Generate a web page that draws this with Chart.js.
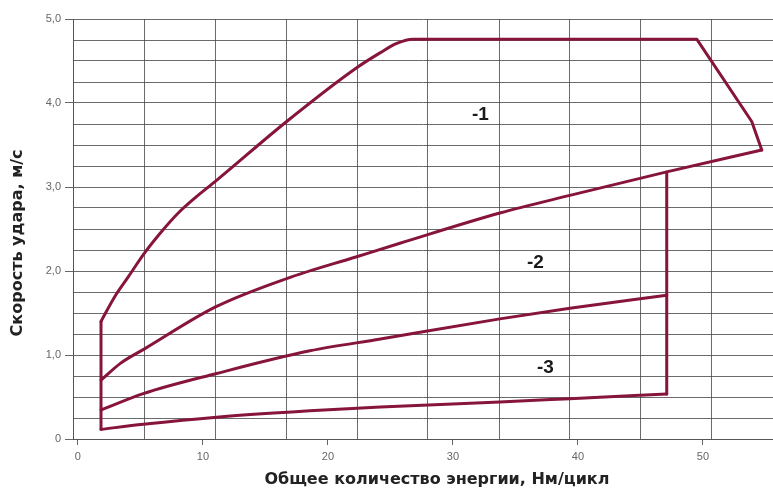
<!DOCTYPE html>
<html>
<head>
<meta charset="utf-8">
<script src="https://cdn.jsdelivr.net/npm/chart.js@4/dist/chart.umd.min.js"></script>
<style>
html,body{margin:0;padding:0;background:#fff;}
#wrap{width:773px;height:490px;position:relative;}
</style>
</head>
<body>
<div id="wrap"><canvas id="c" width="773" height="490"></canvas></div>
<script>
// ---- data (energy, Nm/cycle  vs  impact speed, m/s) ----
const leftEdgeX   = [1.85, 1.85];
const leftEdgeY   = [0.115, 1.40];
const curve1X = [1.85, 2.97, 4.03, 5.31, 6.7, 8.03, 9.37, 11.02, 16.7, 22.3, 24.2, 25.5, 26.8, 27.6];
const curve1Y = [1.40, 1.70, 1.93, 2.21, 2.47, 2.69, 2.87, 3.07, 3.78, 4.42, 4.60, 4.71, 4.76, 4.76];
const topEdgeX = [27.6, 49.5, 53.9, 54.7];
const topEdgeY = [4.76, 4.76, 3.78, 3.44];
const curve2X = [1.85, 3.4, 5.3, 11.05, 16.7, 22.3, 25.76, 33.75, 39.35, 47.1, 54.7];
const curve2Y = [0.70, 0.90, 1.07, 1.575, 1.91, 2.17, 2.33, 2.69, 2.90, 3.18, 3.44];
const curve3X = [1.85, 5.23, 11.1, 18.56, 24.2, 33.75, 39.35, 47.1];
const curve3Y = [0.345, 0.54, 0.78, 1.05, 1.19, 1.43, 1.556, 1.71];
const curve4X = [1.85, 5.23, 11.1, 18.56, 24.2, 33.75, 39.35, 47.1];
const curve4Y = [0.115, 0.175, 0.26, 0.335, 0.38, 0.44, 0.48, 0.535];
const rightEdgeX  = [47.1, 47.1];
const rightEdgeY  = [0.535, 3.18];

const xTickValues = [0, 10, 20, 30, 40, 50];
const xGridValues = [5.33, 11.0, 16.7, 22.4, 28.0, 33.7, 39.35, 45.0, 50.65];
const yTickValues = [0, 1, 2, 3, 4, 5];

const zoneLabels = ['-1', '-2', '-3'];
const zoneLabelX = [32.2, 36.6, 37.4];
const zoneLabelY = [3.86, 2.10, 0.85];

const xTitle = '     Общее количество энергии, Нм/цикл';
const yTitle = 'Скорость удара, м/с     ';

// ---- build ----
const LINE = '#871539';
const FONT = "'Liberation Sans', Arial, sans-serif";
const TFONT = "'DejaVu Sans', 'Liberation Sans', sans-serif";
function pts(xs, ys){ return xs.map((x,i)=>({x:x, y:ys[i]})); }
function ds(xs, ys, smooth){
  const d = {data: pts(xs, ys), showLine: true, borderColor: LINE, borderWidth: 3,
          pointRadius: 0, tension: 0, fill: false, borderJoinStyle: 'round', borderCapStyle: 'round'};
  if (smooth) { d.cubicInterpolationMode = 'monotone'; }
  return d;
}

const zoneLabelPlugin = {
  id: 'zoneLabels',
  afterDatasetsDraw(chart){
    const ctx = chart.ctx, xs = chart.scales.x, ys = chart.scales.y;
    ctx.save();
    ctx.font = "bold 19px " + FONT;
    ctx.fillStyle = '#1a1a1a';
    ctx.textAlign = 'center';
    ctx.textBaseline = 'middle';
    zoneLabels.forEach((t,i)=>{
      ctx.fillText(t, xs.getPixelForValue(zoneLabelX[i]), ys.getPixelForValue(zoneLabelY[i]));
    });
    ctx.restore();
  }
};

new Chart(document.getElementById('c'), {
  type: 'scatter',
  data: {
    datasets: [
      ds(leftEdgeX, leftEdgeY, false), ds(curve1X, curve1Y, true), ds(topEdgeX, topEdgeY, false),
      ds(curve2X, curve2Y, true), ds(curve3X, curve3Y, true), ds(curve4X, curve4Y, true),
      ds(rightEdgeX, rightEdgeY, false)
    ]
  },
  options: {
    responsive: false,
    animation: false,
    layout: {padding: {top: 19, right: 0, left: 0, bottom: 0}},
    plugins: {legend: {display: false}, tooltip: {enabled: false}},
    scales: {
      x: {
        type: 'linear', position: 'bottom', min: -0.39, max: 55.6,
        afterBuildTicks: (axis) => { axis.ticks = xTickValues.map(v => ({value: v})); },
        afterFit: (axis) => { axis.height = 51; },
        ticks: {color: '#666', font: {family: FONT, size: 11}, padding: 5, maxRotation: 0,
                callback: (v) => String(v)},
        grid: {drawOnChartArea: false, tickLength: 6, tickColor: '#666', tickWidth: 1},
        border: {display: true, color: '#555', width: 1},
        title: {display: true, text: xTitle, color: '#222',
                font: {family: TFONT, size: 16, weight: 'bold'}, padding: {top: 0, bottom: 1}}
      },
      x2: {
        type: 'linear', position: 'top', min: -0.39, max: 55.6,
        afterBuildTicks: (axis) => { axis.ticks = xGridValues.map(v => ({value: v})); },
        afterFit: (axis) => { axis.height = 0; },
        ticks: {display: false},
        grid: {drawTicks: false, color: 'rgba(70,70,70,0.8)', lineWidth: 1},
        border: {display: false}
      },
      y: {
        type: 'linear', min: 0, max: 5,
        afterBuildTicks: (axis) => {
          const t = [];
          for (let i = 0; i <= 20; i++) t.push({value: i / 4});
          axis.ticks = t;
        },
        afterFit: (axis) => { axis.width = 73; },
        ticks: {color: '#666', font: {family: FONT, size: 11}, padding: 4, autoSkip: false,
                callback: (v) => yTickValues.includes(v) ? (v === 0 ? '0' : v.toFixed(1).replace('.', ',')) : ''},
        grid: {color: 'rgba(70,70,70,0.8)', lineWidth: 1, tickLength: 8,
               tickColor: (c) => (c.tick && yTickValues.includes(c.tick.value)) ? '#666' : 'rgba(0,0,0,0)'},
        border: {display: true, color: '#555', width: 1},
        title: {display: true, text: yTitle, color: '#222',
                font: {family: TFONT, size: 16, weight: 'bold'}, padding: {top: 8, bottom: 0}}
      }
    }
  },
  plugins: [zoneLabelPlugin]
});
</script>
</body>
</html>
